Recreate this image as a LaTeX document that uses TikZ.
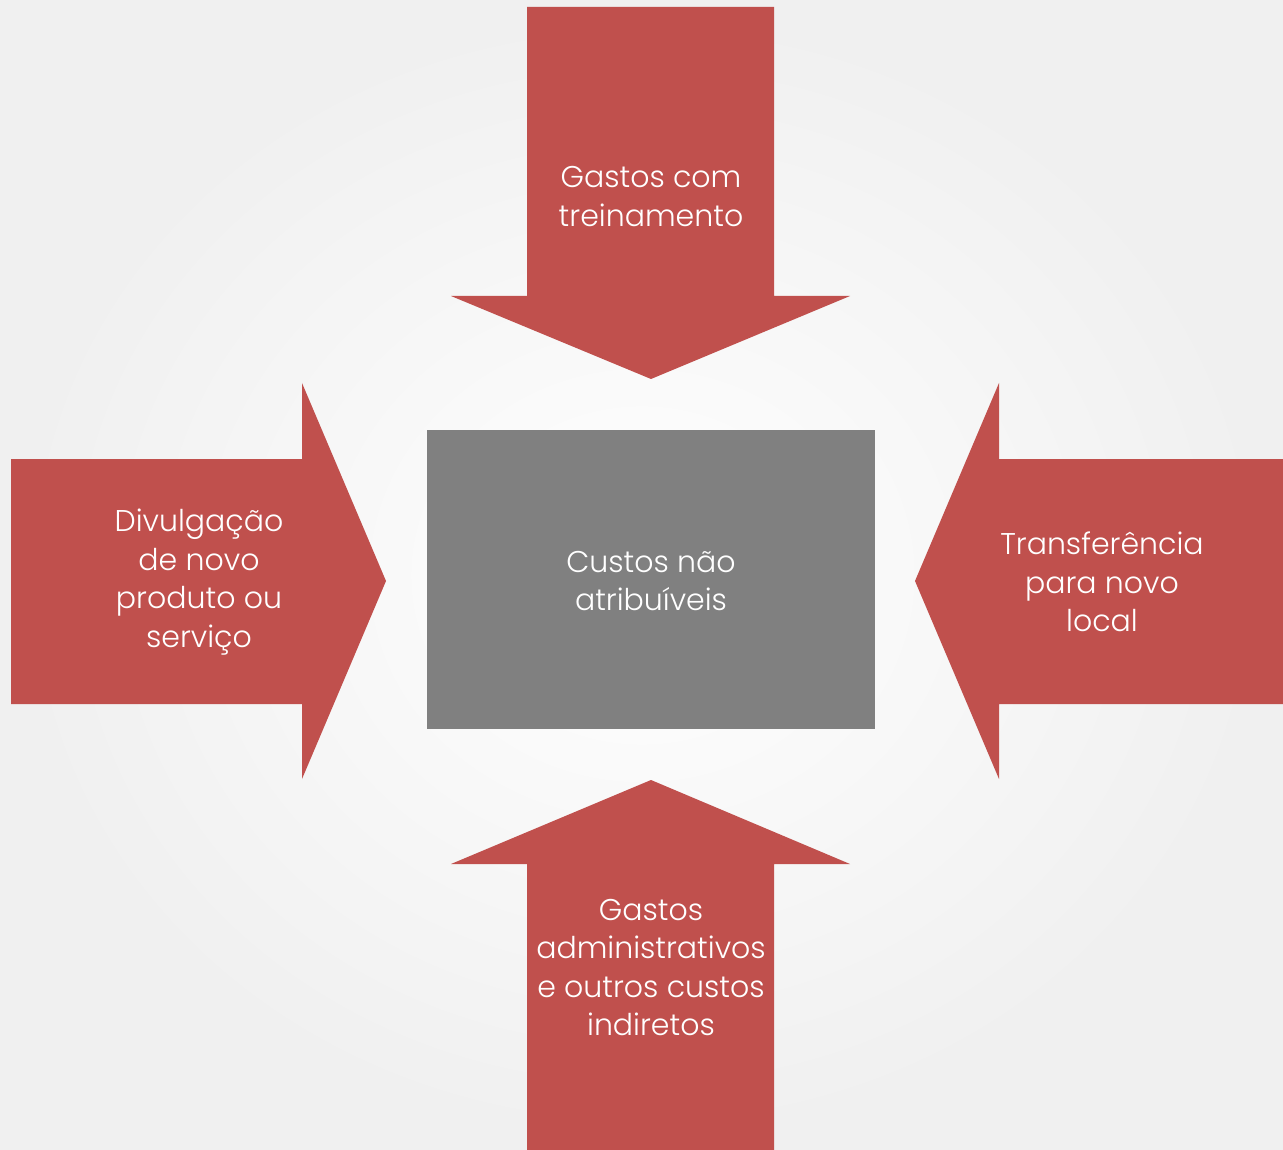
\documentclass[tikz,border=0pt]{standalone}
\usepackage{fontspec}
\setmainfont{Poppins}[UprightFont=* Light]
\definecolor{arrowred}{HTML}{C0504D}
\definecolor{boxgray}{HTML}{808080}
\begin{document}
\begin{tikzpicture}[x=1pt,y=-1pt,
  arrowshape/.style={fill=arrowred,draw=none},
  label/.style={text=white,align=center,font=\fontsize{30}{38.5}\selectfont,inner sep=0pt}]
\useasboundingbox (0,0) rectangle (1283,1150);
% soft radial background
\shade[inner color=white,outer color=black!6] (0,0) rectangle (1283,1150);
% central box
\node[fill=boxgray,minimum width=448pt,minimum height=299pt,inner sep=0pt] (center) at (651,579.5) {};
\node[label] (centertext) at (651,581) {Custos não\\atribuíveis};
% top arrow
\fill[arrowshape] (527,7) -- (774,7) -- (774,296) -- (850,296) -- (651,379) -- (451,296) -- (527,296) -- cycle;
\node[label] (toptext) at (651,196.5) {Gastos com\\treinamento};
% bottom arrow
\fill[arrowshape] (527,1150) -- (774,1150) -- (774,864) -- (850,864) -- (651,780) -- (451,864) -- (527,864) -- cycle;
\node[label] (bottomtext) at (651,967.5) {Gastos\\administrativos\\e outros custos\\indiretos};
% left arrow
\fill[arrowshape] (11,459) -- (302,459) -- (302,383) -- (386,581) -- (302,779) -- (302,704) -- (11,704) -- cycle;
\node[label] (lefttext) at (199,582) {Divulgação\\de novo\\produto ou\\serviço};
% right arrow
\fill[arrowshape] (1283,459) -- (999,459) -- (999,383) -- (915,581) -- (999,779) -- (999,704) -- (1283,704) -- cycle;
\node[label] (righttext) at (1102,582) {Transferência\\para novo\\local};
\end{tikzpicture}
\end{document}
